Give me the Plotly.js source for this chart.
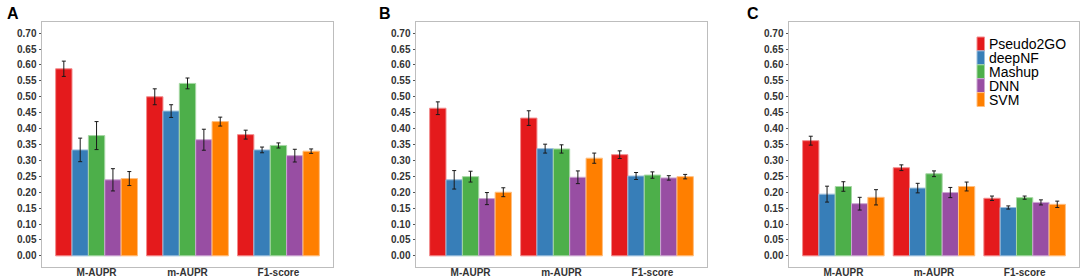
<!DOCTYPE html>
<html>
<head>
<meta charset="utf-8">
<script src="https://cdn.plot.ly/plotly-3.0.1.min.js"></script>
<style>html,body{margin:0;padding:0;background:#fff;}#chart{width:1084px;height:279px;}</style>
</head>
<body>
<div id="chart"></div>
<script>
var categories = ['M-AUPR', 'm-AUPR', 'F1-score'];
var methods = ['Pseudo2GO', 'deepNF', 'Mashup', 'DNN', 'SVM'];
var panelLabels = ['A', 'B', 'C'];
var yTicks = [0, 0.05, 0.10, 0.15, 0.20, 0.25, 0.30, 0.35, 0.40, 0.45, 0.50, 0.55, 0.60, 0.65, 0.70];

// values per method (rows) for each category (columns)
var panelA = [[0.588, 0.500, 0.381], [0.333, 0.455, 0.333], [0.378, 0.542, 0.347], [0.239, 0.365, 0.315], [0.243, 0.422, 0.329]];
var panelAErr = [[0.024, 0.025, 0.014], [0.037, 0.020, 0.009], [0.044, 0.017, 0.008], [0.035, 0.033, 0.020], [0.022, 0.014, 0.007]];
var panelB = [[0.464, 0.433, 0.318], [0.239, 0.337, 0.251], [0.249, 0.336, 0.254], [0.180, 0.247, 0.245], [0.200, 0.307, 0.249]];
var panelBErr = [[0.020, 0.023, 0.012], [0.029, 0.014, 0.011], [0.017, 0.013, 0.010], [0.019, 0.020, 0.007], [0.014, 0.016, 0.007]];
var panelC = [[0.362, 0.277, 0.181], [0.194, 0.213, 0.152], [0.218, 0.258, 0.183], [0.164, 0.199, 0.168], [0.184, 0.218, 0.162]];
var panelCErr = [[0.014, 0.009, 0.007], [0.025, 0.015, 0.005], [0.015, 0.009, 0.005], [0.020, 0.016, 0.008], [0.024, 0.014, 0.010]];

var fillColors = ['#E41A1C', '#377EB8', '#4DAF4A', '#984EA3', '#FF7F00'];
var edgeColors = ['#F28C8D', '#9BBEDB', '#A6D7A4', '#CBA6D1', '#FFBF80'];

var W = 1084, H = 279;
var panels = [panelA, panelB, panelC];
var panelErrs = [panelAErr, panelBErr, panelCErr];
var xDomainsPx = [[42, 333], [416, 707], [789, 1079]];
var yDomain = [(H - 267) / H, (H - 22) / H];

var traces = [];
panels.forEach(function (vals, p) {
  methods.forEach(function (m, i) {
    traces.push({
      type: 'bar',
      name: m,
      x: categories,
      y: vals[i],
      xaxis: p === 0 ? 'x' : 'x' + (p + 1),
      yaxis: p === 0 ? 'y' : 'y' + (p + 1),
      marker: {color: fillColors[i], line: {color: edgeColors[i], width: 1}},
      error_y: {type: 'data', array: panelErrs[p][i], visible: true, color: '#1a1a1a', thickness: 1, width: 2},
      showlegend: false,
      hoverinfo: 'skip'
    });
  });
});

var tickFont = {family: 'Liberation Sans, Arial, sans-serif', size: 10, color: '#333333', weight: 'bold'};
var layout = {
  width: W, height: H,
  margin: {l: 0, r: 0, t: 0, b: 0},
  paper_bgcolor: '#ffffff',
  plot_bgcolor: '#ffffff',
  barmode: 'group',
  bargap: 0.1,
  bargroupgap: 0,
  showlegend: false,
  annotations: [],
  shapes: []
};

panelLabels.forEach(function (lab, p) {
  var xs = p === 0 ? 'xaxis' : 'xaxis' + (p + 1);
  var ys = p === 0 ? 'yaxis' : 'yaxis' + (p + 1);
  layout[xs] = {
    domain: [xDomainsPx[p][0] / W, xDomainsPx[p][1] / W],
    anchor: p === 0 ? 'y' : 'y' + (p + 1),
    type: 'category',
    range: [-0.6, 2.6],
    showline: true, mirror: true, linecolor: '#BDBDBD', linewidth: 1,
    ticks: '', showgrid: false, zeroline: false,
    ticklabelstandoff: -4,
    tickfont: tickFont
  };
  layout[ys] = {
    domain: yDomain,
    anchor: p === 0 ? 'x' : 'x' + (p + 1),
    range: [-0.035, 0.735],
    tickvals: yTicks,
    tickformat: '.2f',
    showline: true, mirror: true, linecolor: '#BDBDBD', linewidth: 1,
    ticks: 'outside', ticklen: 2.5, tickwidth: 1, tickcolor: '#555555',
    showgrid: false, zeroline: false,
    tickfont: tickFont
  };
  var letterX = [5, 377, 745][p];
  layout.annotations.push({
    xref: 'paper', yref: 'paper', x: letterX / W, y: 1 - 13.5 / H,
    xanchor: 'left', yanchor: 'middle', showarrow: false,
    text: '<b>' + lab + '</b>',
    font: {family: 'Liberation Sans, Arial, sans-serif', size: 16, color: '#000000'}
  });
});

// legend (inside panel C)
var keyX0 = 977, keyX1 = 984.5, keyTop = 37, keyH = 13.9;
methods.forEach(function (m, i) {
  var t = keyTop + i * keyH;
  layout.shapes.push({
    type: 'rect', xref: 'paper', yref: 'paper',
    x0: keyX0 / W, x1: keyX1 / W, y0: 1 - t / H, y1: 1 - (t + keyH) / H,
    fillcolor: fillColors[i], line: {color: edgeColors[i], width: 1}
  });
  layout.annotations.push({
    xref: 'paper', yref: 'paper', x: 987.5 / W, y: 1 - (t + keyH / 2) / H,
    xanchor: 'left', yanchor: 'middle', showarrow: false, borderpad: 0,
    text: m,
    font: {family: 'Liberation Sans, Arial, sans-serif', size: 14, color: '#000000'}
  });
});

Plotly.newPlot('chart', traces, layout, {displayModeBar: false, staticPlot: true});
</script>
</body>
</html>
